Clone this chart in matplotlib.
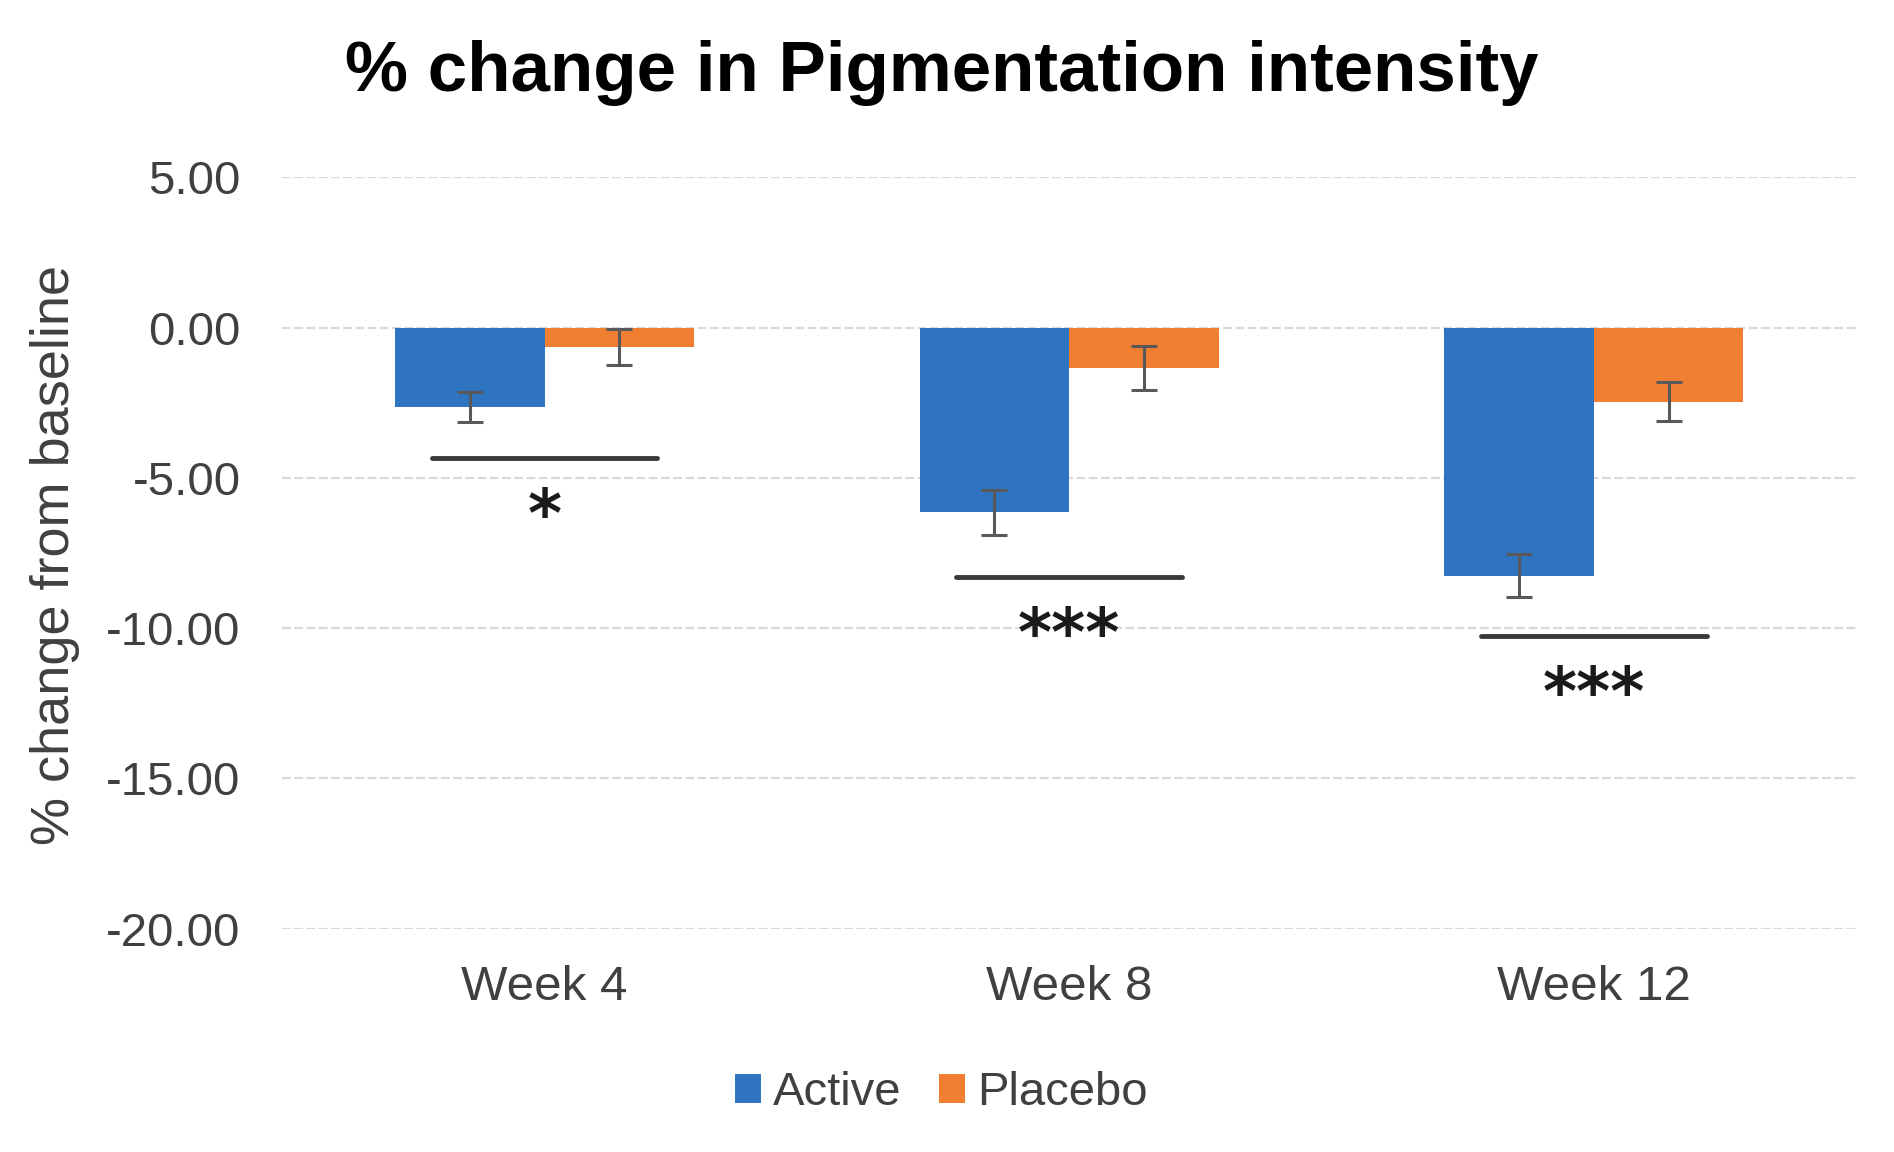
import matplotlib
matplotlib.use("Agg")
import matplotlib.pyplot as plt
import numpy as np

# дані з графіка
weeks = ["Week 4", "Week 8", "Week 12"]
active = [-2.63, -6.15, -8.26]
active_err = [0.50, 0.75, 0.72]
placebo = [-0.65, -1.34, -2.47]
placebo_err = [0.60, 0.72, 0.65]
sig_line_y = [-4.33, -8.30, -10.28]
sig_text_y = [-6.35, -10.30, -12.25]
sig_labels = ["*", "***", "***"]
y_ticks = [5, 0, -5, -10, -15, -20]

BLUE = "#2E74C0"
ORANGE = "#F07F32"
TEXT = "#404040"

plt.rcParams["font.family"] = ["Liberation Sans", "DejaVu Sans"]

fig = plt.figure(figsize=(18.94, 11.52), dpi=100)
ax = fig.add_axes([0.149, 0.194, 0.831, 0.652])

x = np.arange(len(weeks))
w = 0.285
err_kw = dict(ecolor="#595959", elinewidth=2.2, capthick=2.2)
ax.bar(x - w / 2, active, w, yerr=active_err, capsize=9.5, color=BLUE,
       label="Active", error_kw=err_kw, zorder=3)
ax.bar(x + w / 2, placebo, w, yerr=placebo_err, capsize=9.5, color=ORANGE,
       label="Placebo", error_kw=err_kw, zorder=3)

# лінії значущості + зірочки
for i in range(len(weeks)):
    ax.plot([x[i] - 0.215, x[i] + 0.215], [sig_line_y[i]] * 2,
            color="#3A3A3A", linewidth=3.5, solid_capstyle="round", zorder=4)
    ax.text(x[i], sig_text_y[i], sig_labels[i], ha="center", va="center",
            fontsize=47, fontweight="bold", family="DejaVu Sans",
            color="#1A1A1A", zorder=4)

ax.set_xlim(-0.5, 2.5)
ax.set_ylim(-20, 5)
ax.set_yticks(y_ticks)
ax.set_yticklabels([f"{v:.2f}" for v in y_ticks])
ax.set_xticks(x)
ax.set_xticklabels(weeks)
ax.tick_params(axis="both", length=0, labelsize=34, colors=TEXT)
ax.tick_params(axis="x", labelsize=35.5, pad=26)
ax.tick_params(axis="y", pad=30)
ax.grid(True, axis="y", color="#D9D9D9", linewidth=1.6, linestyle=(0, (4, 1.5)), zorder=0)
for s in ax.spines.values():
    s.set_visible(False)

fig.text(0.029, 0.518, "% change from baseline", rotation=90, ha="center", va="center",
         fontsize=39, color=TEXT)
fig.text(0.497, 0.937, "% change in Pigmentation intensity", ha="center", va="center",
         fontsize=51, fontweight="bold", color="black")

fig.legend(loc="center", bbox_to_anchor=(0.497, 0.051), ncol=2, frameon=False,
           fontsize=34, handlelength=0.55, handleheight=0.55, handletextpad=0.25,
           columnspacing=0.8, labelcolor=TEXT)

fig.savefig("out.png", dpi=100, facecolor="white")
